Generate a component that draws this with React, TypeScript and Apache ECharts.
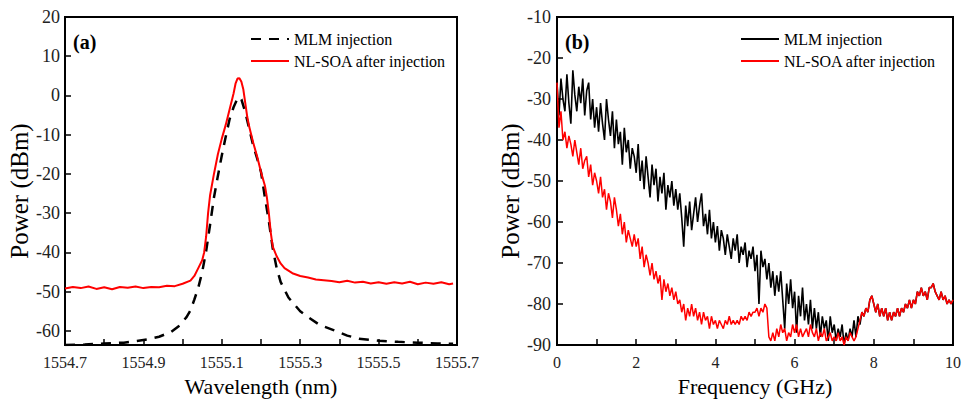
import React, { useEffect, useRef } from "react";
import * as echarts from "echarts";

// ---------- Panel (a): optical spectrum ----------
const mlmSpectrum: [number, number][] = [
  [1554.70, -63.6], [1554.75, -63.5], [1554.80, -63.2], [1554.85, -63.0], [1554.88, -62.6],
  [1554.91, -62.2], [1554.94, -61.5], [1554.97, -60.3], [1554.99, -58.8], [1555.01, -56.5],
  [1555.02, -54.8], [1555.03, -52.0], [1555.04, -49.0], [1555.05, -45.0], [1555.06, -39.7],
  [1555.07, -33.0], [1555.08, -26.0], [1555.09, -20.5], [1555.10, -15.3], [1555.11, -10.5],
  [1555.12, -6.0], [1555.13, -3.0], [1555.14, -0.8], [1555.145, -0.4], [1555.15, -1.0],
  [1555.16, -4.3], [1555.17, -8.5], [1555.18, -12.7], [1555.19, -16.0], [1555.20, -19.5],
  [1555.21, -26.0], [1555.22, -32.0], [1555.23, -39.0], [1555.24, -44.0], [1555.25, -47.5],
  [1555.27, -51.5], [1555.30, -55.0], [1555.32, -56.5], [1555.35, -58.5], [1555.385, -59.8],
  [1555.42, -61.2], [1555.45, -62.0], [1555.50, -62.5], [1555.55, -62.8], [1555.60, -63.0],
  [1555.65, -63.2], [1555.69, -63.3],
];

const soaSpectrum: [number, number][] = [
  [1554.70, -49.2], [1554.72, -48.8], [1554.74, -49.1], [1554.76, -48.7], [1554.78, -49.3],
  [1554.80, -48.9], [1554.82, -49.4], [1554.84, -48.8], [1554.86, -49.0], [1554.88, -48.7],
  [1554.90, -49.1], [1554.92, -48.8], [1554.94, -48.9], [1554.96, -48.5], [1554.98, -48.6],
  [1555.00, -48.0], [1555.02, -47.2], [1555.03, -46.0], [1555.04, -44.0], [1555.05, -42.0],
  [1555.055, -40.0], [1555.06, -36.0], [1555.065, -30.0], [1555.07, -25.5], [1555.08, -20.0],
  [1555.09, -15.0], [1555.10, -11.0], [1555.11, -7.5], [1555.12, -3.5], [1555.13, 0.5],
  [1555.135, 3.0], [1555.14, 4.3], [1555.145, 4.4], [1555.15, 3.5], [1555.155, 1.5],
  [1555.16, -2.0], [1555.165, -5.5], [1555.17, -8.0], [1555.18, -12.0], [1555.19, -15.5],
  [1555.20, -19.5], [1555.21, -23.0], [1555.215, -26.0], [1555.22, -30.0], [1555.225, -35.0],
  [1555.23, -38.5], [1555.24, -41.0], [1555.25, -42.8], [1555.26, -44.0], [1555.28, -45.3],
  [1555.30, -46.0], [1555.32, -46.4], [1555.34, -46.9], [1555.36, -47.1], [1555.38, -47.3],
  [1555.40, -47.6], [1555.42, -47.2], [1555.44, -47.7], [1555.46, -47.5], [1555.48, -47.9],
  [1555.50, -47.6], [1555.52, -48.0], [1555.54, -47.6], [1555.56, -47.9], [1555.58, -47.5],
  [1555.60, -48.1], [1555.62, -47.7], [1555.64, -48.0], [1555.66, -47.6], [1555.68, -48.1],
  [1555.69, -47.9],
];

const wlTicks = [1554.7, 1554.8, 1554.9, 1555.0, 1555.1, 1555.2, 1555.3, 1555.4, 1555.5, 1555.6, 1555.7];
const wlLabels = [1554.7, 1554.9, 1555.1, 1555.3, 1555.5, 1555.7];
const powerTicksA = [-60, -50, -40, -30, -20, -10, 0, 10, 20];

// ---------- Panel (b): RF spectrum (sampled every 0.05 GHz from 0 to 10 GHz) ----------
const FREQ_STEP = 0.05;
const mlmRf = [
  -26, -34, -25, -30, -33, -24, -31, -36, -23, -29,
  -33, -27, -31, -25, -34, -28, -26, -35, -30, -37,
  -32, -38, -31, -36, -40, -30, -35, -39, -33, -42,
  -35, -41, -38, -46, -37, -43, -40, -47, -42, -44,
  -48, -41, -50, -45, -52, -44, -49, -54, -46, -51,
  -47, -55, -49, -53, -48, -57, -51, -54, -50, -56,
  -52, -57, -53, -59, -66, -56, -61, -55, -62, -58,
  -54, -60, -56, -53, -61, -58, -63, -57, -64, -60,
  -65, -61, -67, -62, -64, -68, -63, -66, -69, -64,
  -67, -63, -70, -66, -68, -65, -71, -67, -69, -66,
  -72, -68, -80, -67, -71, -69, -74, -70, -76, -72,
  -78, -73, -77, -72, -79, -86, -75, -80, -74, -81,
  -77, -87, -78, -83, -76, -84, -80, -85, -79, -86,
  -81, -86, -82, -88, -83, -86, -84, -89, -83, -87,
  -85, -89, -86, -88, -85, -90, -87, -89, -86, -88,
  -84, -88, -83, -85, -82,
  -83, -81, -82, -79, -78, -80, -82, -80, -83, -81,
  -83, -81, -84, -82, -84, -82, -83, -81, -83, -81,
  -82, -80, -81, -79, -81, -79, -80, -77, -78, -76,
  -78, -77, -79, -76, -76, -75, -77, -78, -79, -77,
  -79, -78, -80, -79, -80, -79,
];
const soaRf = [
  -26, -37, -33, -40, -38, -42, -39, -41, -44, -40,
  -43, -46, -42, -47, -45, -44, -49, -46, -51, -48,
  -50, -53, -49, -54, -52, -57, -53, -55, -59, -54,
  -57, -61, -58, -63, -60, -65, -62, -64, -66, -63,
  -66, -64, -69, -66, -71, -68, -70, -73, -70, -74,
  -72, -75, -73, -79, -74, -77, -75, -78, -76, -79,
  -77, -80, -79, -82, -80, -84, -81, -83, -80, -83,
  -81, -84, -82, -85, -82, -84, -83, -86, -83, -85,
  -84, -86, -84, -85, -86, -84, -85, -83, -85, -84,
  -85, -84, -85, -83, -84, -83, -84, -82, -83, -82,
  -82, -81, -83, -81, -82, -80, -81, -88, -89, -87,
  -89, -86, -88, -85, -87, -86, -89, -87, -88, -85,
  -87, -85, -88, -86, -88, -87, -86, -88, -85, -87,
  -88, -86, -89, -87, -88, -86, -89, -88, -87, -89,
  -88, -89, -87, -89, -88, -90, -88, -89, -87, -88,
  -89, -88, -86, -84, -82,
  -83, -81, -82, -79, -78, -80, -82, -80, -83, -81,
  -83, -81, -84, -82, -84, -82, -83, -81, -83, -81,
  -82, -80, -81, -79, -81, -79, -80, -77, -78, -76,
  -78, -77, -79, -76, -76, -75, -77, -78, -79, -77,
  -79, -78, -80, -79, -80, -79,
];
const freqTicks = [0, 1, 2, 3, 4, 5, 6, 7, 8, 9, 10];
const freqLabels = [0, 2, 4, 6, 8, 10];
const powerTicksB = [-90, -80, -70, -60, -50, -40, -30, -20, -10];

const FONT = "'Liberation Serif', 'Times New Roman', Times, serif";

const toPairs = (vals: number[]) => vals.map((v, i) => [+(i * FREQ_STEP).toFixed(2), v]);

export default function App() {
  const ref = useRef<HTMLDivElement>(null);
  useEffect(() => {
    if (!ref.current) return;
    const chart = echarts.init(ref.current, undefined, { renderer: "svg" });
    const axisLine = { show: true, onZero: false, lineStyle: { color: "#000", width: 2 } };
    const tick = (vals: number[]) => ({
      show: true, inside: true, length: 6, customValues: vals,
      lineStyle: { color: "#000", width: 1.5 },
    });
    const label = (vals: number[], size: number, margin: number, fmt?: (v: number) => string) => ({
      customValues: vals, fontSize: size, color: "#222", fontFamily: FONT, margin,
      formatter: fmt,
    });
    const stripSuffix = (n: string) => n.replace(/ \[[ab]\]$/, "");
    const legendBase = {
      top: 26, orient: "vertical", itemWidth: 38, itemHeight: 14, itemGap: 6,
      formatter: stripSuffix, selectedMode: false,
      itemStyle: { opacity: 0 },
      textStyle: { fontFamily: FONT, fontSize: 16, color: "#000" },
    };
    chart.setOption({
      animation: false,
      backgroundColor: "#fff",
      textStyle: { fontFamily: FONT },
      title: [
        { text: "(a)", left: 68, top: 27, textStyle: { fontFamily: FONT, fontWeight: "bold", fontSize: 20, color: "#000" } },
        { text: "(b)", left: 560, top: 27, textStyle: { fontFamily: FONT, fontWeight: "bold", fontSize: 20, color: "#000" } },
      ],
      legend: [
        { ...legendBase, left: 245, data: ["MLM injection [a]", "NL-SOA after injection [a]"] },
        { ...legendBase, left: 735, data: ["MLM injection [b]", "NL-SOA after injection [b]"] },
      ],
      grid: [
        { left: 65, top: 17, width: 392, height: 331, show: true, borderColor: "#000", borderWidth: 2 },
        { left: 557, top: 17, width: 398, height: 333, show: true, borderColor: "#000", borderWidth: 2 },
      ],
      xAxis: [
        {
          type: "value", gridIndex: 0, min: 1554.7, max: 1555.7,
          axisLine, axisTick: tick(wlTicks), splitLine: { show: false },
          axisLabel: label(wlLabels, 16, 9, (v: number) => v.toFixed(1)),
          name: "Wavelength (nm)", nameLocation: "middle", nameGap: 30,
          nameTextStyle: { fontFamily: FONT, fontSize: 22, color: "#000" },
        },
        {
          type: "value", gridIndex: 1, min: 0, max: 10,
          axisLine, axisTick: tick(freqTicks), splitLine: { show: false },
          axisLabel: label(freqLabels, 16, 9, (v: number) => String(v)),
          name: "Frequency (GHz)", nameLocation: "middle", nameGap: 30,
          nameTextStyle: { fontFamily: FONT, fontSize: 22, color: "#000" },
        },
      ],
      yAxis: [
        {
          type: "value", gridIndex: 0, min: -63.6, max: 20,
          axisLine, axisTick: tick(powerTicksA), splitLine: { show: false },
          axisLabel: label(powerTicksA, 18, 5, (v: number) => String(v)),
          name: "Power (dBm)", nameLocation: "middle", nameGap: 29,
          nameTextStyle: { fontFamily: FONT, fontSize: 25, color: "#000", padding: [0, 20, 0, 0] },
        },
        {
          type: "value", gridIndex: 1, min: -90, max: -10,
          axisLine, axisTick: tick(powerTicksB), splitLine: { show: false },
          axisLabel: label(powerTicksB, 18, 6, (v: number) => String(v)),
          name: "Power (dBm)", nameLocation: "middle", nameGap: 24,
          nameTextStyle: { fontFamily: FONT, fontSize: 25, color: "#000", padding: [0, 20, 0, 0] },
        },
      ],
      series: [
        {
          name: "MLM injection [a]", type: "line", xAxisIndex: 0, yAxisIndex: 0, data: mlmSpectrum,
          symbol: "none", color: "#000", lineStyle: { color: "#000", width: 2.5, type: [10, 8] },
        },
        {
          name: "NL-SOA after injection [a]", type: "line", xAxisIndex: 0, yAxisIndex: 0, data: soaSpectrum,
          symbol: "none", color: "#ff0000", lineStyle: { color: "#ff0000", width: 2 },
        },
        {
          name: "MLM injection [b]", type: "line", xAxisIndex: 1, yAxisIndex: 1, data: toPairs(mlmRf),
          symbol: "none", color: "#000", lineStyle: { color: "#000", width: 1.6 },
        },
        {
          name: "NL-SOA after injection [b]", type: "line", xAxisIndex: 1, yAxisIndex: 1, data: toPairs(soaRf),
          symbol: "none", color: "#ff0000", lineStyle: { color: "#ff0000", width: 1.5 },
        },
      ],
    });
    return () => chart.dispose();
  }, []);
  return (
    <div
      ref={ref}
      style={{ position: "absolute", left: 0, top: 0, width: 964, height: 402, background: "#fff" }}
    />
  );
}
